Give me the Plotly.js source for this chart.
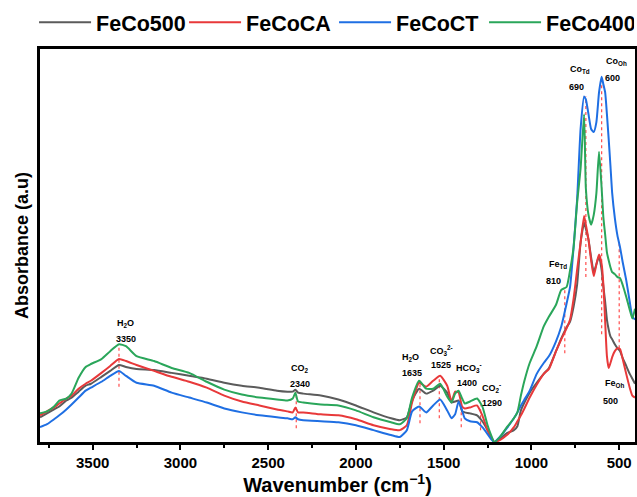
<!DOCTYPE html>
<html>
<head>
<meta charset="utf-8">
<script src="https://cdn.plot.ly/plotly-3.0.1.min.js"></script>
<style>html,body{margin:0;padding:0;background:#fff;}#chart{width:637px;height:497px;}</style>
</head>
<body>
<div id="chart"></div>
<script>
// Wavenumber grid (cm^-1)
const wavenumber = [3800,3760,3720,3690,3650,3620,3580,3540,3510,3450,3400,3350,3310,3250,3150,3050,2950,2850,2750,2650,2550,2450,2390,2360,2345,2330,2300,2200,2100,2000,1900,1800,1750,1710,1680,1640,1600,1560,1520,1480,1455,1435,1415,1395,1380,1350,1310,1280,1250,1230,1212,1180,1140,1100,1080,1060,1040,1010,970,930,900,860,830,800,780,760,740,720,700,690,675,660,645,630,615,600,590,580,570,560,550,540,525,510,495,480,460,440,425,410];

const feCo500 = [25,29,33,36,42,45,51,57,59,66,72,78,76,74,73,70,67,64,60,57,55,52,51,51,53,50,49,47,43,37,30,24,
  22,25,42,54,49,52,57,50,40,41,42,31,30,29,27,21,12,5,
  0,3,9,12,16,32,40,50,60,69,75,92,105,116,122,137,159,202,222,216,205,187,172,180,188,174,157,142,124,114,107,104,99,95,92,85,77,69,64,59];

const feCoCA = [27,31,35,39,44,47,54,59,62,70,77,84,82,78,72,66,61,
  55,47,41,37,33,31,30,35,30,30,28,27,23,17,13,
  12,17,40,60,56,62,67,57,41,51,50,36,34,35,37,27,12,5,
  0,2,7,15,21,27,34,45,58,69,74,92,104,115,124,145,174,202,229,220,205,184,168,180,190,180,159,122,87,75,80,86,92,95,94,84,69,55,47,45];

const feCoCT = [15,18,23,27,33,38,45,52,55,61,67,72,67,60,57,50,45,40,34,30,27,25,24,23,25,23,22,21,20,17,12,7,
  5,12,31,36,30,37,43,32,24,28,41,32,24,21,20,15,8,3,
  0,5,14,24,30,37,43,52,69,80,87,102,117,140,157,197,245,317,350,347,332,317,314,324,354,370,362,354,332,307,280,252,227,209,197,182,164,142,127,124];

const feCo400 = [29,31,36,42,44,49,65,76,79,84,92,99,97,87,82,75,70,61,53,48,45,43,42,44,50,41,40,38,37,32,25,20,
  18,24,45,62,54,54,59,46,40,49,52,44,39,41,44,36,17,7,
  0,5,15,24,30,47,62,80,97,117,127,139,154,157,174,197,242,277,332,257,230,220,230,252,294,257,227,210,192,184,177,172,170,167,166,159,147,134,125,135];

const seriesNames = ['FeCo500','FeCoCA','FeCoCT','FeCo400'];

// Band assignments
const bandNames = ['H<sub>2</sub>O','CO<sub>2</sub>','H<sub>2</sub>O','CO<sub>3</sub><sup>2-</sup>','HCO<sub>3</sub><sup>-</sup>','CO<sub>2</sub><sup>-</sup>','Fe<sub>Td</sub>','Co<sub>Td</sub>','Co<sub>Oh</sub>','Fe<sub>Oh</sub>'];
const bandWavenumbers = [3350,2340,1635,1525,1400,1290,810,690,600,500];

// ---- layout/positioning (not data) ----
const colors = ['#5b5b5b','#e8393a','#1f6fe3','#2aa65a'];
const lineSpan = [[56,99],[14,52],[19,62],[24,67],[15,40],[12,37],[90,156],[167,350],[109,370],[95,204]];
const namePos = [[3315,120],[2320,74],[1690,86],[1510,93],[1357,75],[1226,55],[849,180],[724,377],[513,385],[524,59]];
const numPos  = [[3310,104],[2320,59],[1680,70],[1515,78],[1365,60],[1222,40],[872,163],[741,360],[541,369],[547,42]];

const ys = [feCo500, feCoCA, feCoCT, feCo400];
const traces = ys.map((y,i)=>({
  x: wavenumber, y: y, name: seriesNames[i], type:'scatter', mode:'lines',
  line:{color:colors[i], width:2, shape:'spline', smoothing:0.5}
}));

const fontFam = 'Arial, "Liberation Sans", sans-serif';
const annotations = [];
const shapes = [];
bandNames.forEach((n,i)=>{
  annotations.push({x:namePos[i][0], y:namePos[i][1], xref:'x', yref:'y', text:n, showarrow:false,
    font:{family:fontFam, size:9, color:'#000', weight:'bold'}});
  annotations.push({x:numPos[i][0], y:numPos[i][1], xref:'x', yref:'y', text:String(bandWavenumbers[i]), showarrow:false,
    font:{family:fontFam, size:9, color:'#000', weight:'bold'}});
  shapes.push({type:'line', xref:'x', yref:'y', x0:bandWavenumbers[i], x1:bandWavenumbers[i], y0:lineSpan[i][0], y1:lineSpan[i][1],
    line:{color:'#ff4d4d', width:1.2, dash:'dot'}, layer:'below'});
});

const layout = {
  width:637, height:497,
  margin:{l:40, r:2, t:44, b:55},
  paper_bgcolor:'#fff', plot_bgcolor:'#fff',
  font:{family:fontFam, color:'#000'},
  showlegend:true,
  legend:{orientation:'h', x:-0.01, xanchor:'left', y:1.068, yanchor:'middle',
    font:{family:fontFam, size:21.5, weight:'bold', color:'#000'}, bgcolor:'rgba(0,0,0,0)',
    itemwidth:52, entrywidth:83, tracegroupgap:0},
  xaxis:{range:[3800,410], showgrid:false, zeroline:false, showline:true, mirror:true, linecolor:'#000', linewidth:2.8,
    ticks:'outside', ticklen:5, tickwidth:2, tickcolor:'#000', tick0:500, dtick:500,
    minor:{ticks:'outside', ticklen:3, tickwidth:2, dtick:250, tick0:500, tickcolor:'#000', showgrid:false},
    tickfont:{family:fontFam, size:15, weight:'bold', color:'#000'},
    title:{text:'Wavenumber (cm<sup>\u22121</sup>)', font:{family:fontFam, size:20, weight:'bold', color:'#000'}, standoff:3}},
  yaxis:{range:[0,398], showgrid:false, zeroline:false, showline:true, mirror:true, linecolor:'#000', linewidth:2.8,
    ticks:'', showticklabels:false,
    title:{text:'Absorbance (a.u)', font:{family:fontFam, size:18, weight:'bold', color:'#000'}, standoff:4}},
  annotations: annotations,
  shapes: shapes
};

Plotly.newPlot('chart', traces, layout, {displayModeBar:false, staticPlot:true});
</script>
</body>
</html>
